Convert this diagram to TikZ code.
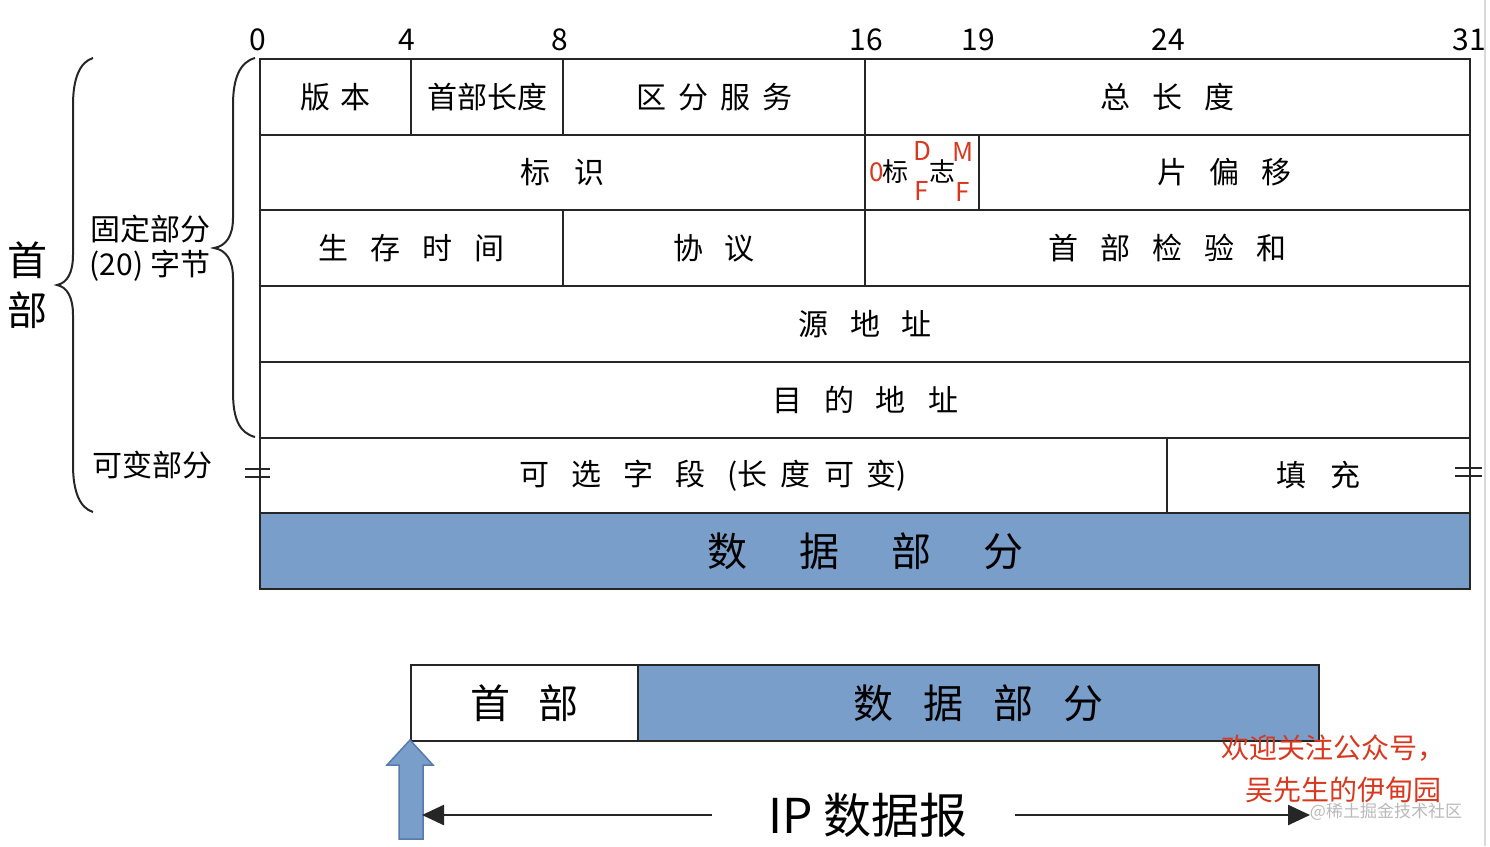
\documentclass[tikz,border=0pt]{standalone}
\usepackage{fontspec}
\setmainfont{Noto Sans CJK SC}
\usetikzlibrary{arrows.meta}
\definecolor{blu}{RGB}{122,158,202}
\definecolor{bluedge}{RGB}{88,122,172}
\definecolor{redt}{RGB}{217,56,30}
\newcommand\gapp[1]{\hspace{#1pt}}
\begin{document}
\begin{tikzpicture}[x=1pt,y=-1pt,
  cell/.style={draw=black!85, line width=2pt, minimum height=75.7pt, inner sep=0pt,
    anchor=north west, font=\fontsize{30}{30}\selectfont},
  datacell/.style={cell, fill=blu, font=\fontsize{40}{40}\selectfont},
  bitlbl/.style={font=\fontsize{30}{30}\selectfont, inner sep=0pt},
  sidelbl/.style={font=\fontsize{30}{30}\selectfont, inner sep=0pt},
  flagred/.style={text=redt, font=\fontsize{26}{26}\selectfont, inner sep=0pt},
  bracestyle/.style={draw=black!85, line width=2pt},
  eqmark/.style={draw=black!85, line width=2.5pt},
  lenarrow/.style={draw=black!85, line width=2.5pt, -{Triangle[length=22pt,width=20pt]}}
]
\useasboundingbox (0,0) rectangle (1490,846);
\draw[gray!30, line width=1.5pt] (1485,0) -- (1485,846);

% bit labels
\node[bitlbl] (b0) at (258,40) {0};
\node[bitlbl] (b4) at (407,40) {4};
\node[bitlbl] (b8) at (560,40) {8};
\node[bitlbl] (b16) at (866,40) {16};
\node[bitlbl] (b19) at (978,40) {19};
\node[bitlbl] (b24) at (1168,40) {24};
\node[bitlbl] (b31) at (1469,40) {31};

% row 1
\node[cell, minimum width=151pt] (ver) at (259,58) {版\gapp{10}本};
\node[cell, minimum width=152pt] (hlen) at (410,58) {首部长度};
\node[cell, minimum width=302pt] (tos) at (562,58) {区\gapp{12}分\gapp{12}服\gapp{12}务};
\node[cell, minimum width=605pt] (tlen) at (864,58) {总\gapp{22}长\gapp{22}度};
% row 2
\node[cell, minimum width=605pt] (ident) at (259,133.7) {标\gapp{24}识};
\node[cell, minimum width=114pt] (flags) at (864,133.7) {};
\node[cell, minimum width=491pt] (frag) at (978,133.7) {片\gapp{22}偏\gapp{22}移};
% row 3
\node[cell, minimum width=303pt] (ttl) at (259,209.4) {生\gapp{22}存\gapp{22}时\gapp{22}间};
\node[cell, minimum width=302pt] (proto) at (562,209.4) {协\gapp{22}议};
\node[cell, minimum width=605pt] (csum) at (864,209.4) {首\gapp{22}部\gapp{22}检\gapp{22}验\gapp{22}和};
% rows 4-5
\node[cell, minimum width=1210pt] (src) at (259,285.1) {源\gapp{22}地\gapp{22}址};
\node[cell, minimum width=1210pt] (dst) at (259,360.8) {目\gapp{22}的\gapp{22}地\gapp{22}址};
% row 6
\node[cell, minimum width=907pt] (opt) at (259,436.5) {可\gapp{22}选\gapp{22}字\gapp{22}段\gapp{22}(长\gapp{13}度\gapp{13}可\gapp{13}变)\gapp{20}};
\node[cell, minimum width=303pt] (pad) at (1166,436.5) {填\gapp{24}充};
% data row
\node[datacell, minimum width=1210pt] (data) at (259,512.2) {数\gapp{52}据\gapp{52}部\gapp{52}分};

% flags detail
\node[inner sep=0pt, font=\fontsize{26}{26}\selectfont] (flagtxt) at (919,172) {标\gapp{21}志};
\node[flagred] (f0) at (877,172) {0};
\node[flagred] (fD) at (922,151) {D};
\node[flagred] (fF1) at (922,191) {F};
\node[flagred] (fM) at (963,152) {M};
\node[flagred] (fF2) at (963,192) {F};

% equals marks
\draw[eqmark] (245,469) -- (270,469);
\draw[eqmark] (245,477) -- (270,477);
\draw[eqmark] (1455,468) -- (1482,468);
\draw[eqmark] (1455,476) -- (1482,476);

% braces
\draw[bracestyle] (93,58) .. controls (80,62) and (73,78) .. (73,105) -- (73,255)
  .. controls (73,273) and (67,283) .. (57,285)
  .. controls (67,287) and (73,297) .. (73,315) -- (73,465)
  .. controls (73,492) and (80,508) .. (93,512);
\draw[bracestyle] (255,58) .. controls (240,62) and (233,78) .. (233,105) -- (233,218)
  .. controls (233,236) and (226,246) .. (214,248)
  .. controls (226,250) and (233,260) .. (233,278) -- (233,392)
  .. controls (233,420) and (240,433) .. (255,437);

% side labels
\node[inner sep=0pt, font=\fontsize{40}{40}\selectfont] (shou) at (27,260) {首};
\node[inner sep=0pt, font=\fontsize{40}{40}\selectfont] (bu) at (27,310) {部};
\node[sidelbl] (fixed1) at (150,229) {固定部分};
\node[sidelbl] (fixed2) at (150,266) {(20) 字节};
\node[sidelbl] (var) at (152,465) {可变部分};

% bottom datagram
\node[cell, minimum width=227pt, font=\fontsize{40}{40}\selectfont] (hdr) at (410,664) {首\gapp{28}部};
\node[datacell, minimum width=681pt] (pl) at (637,664) {数\gapp{30}据\gapp{30}部\gapp{30}分};

% blue up arrow
\draw[fill=blu, draw=bluedge, line width=1.5pt] (410,740) -- (433,765) -- (423,765) -- (423,839)
  -- (399,839) -- (399,765) -- (387,765) -- cycle;

% IP datagram label and arrows
\node[inner sep=0pt, font=\fontsize{48}{48}\selectfont] (ip) at (868,815) {IP 数据报};
\coordinate (lstart) at (712,815);
\coordinate (lend) at (422,815);
\coordinate (rstart) at (1015,815);
\coordinate (rend) at (1310,815);
\draw[lenarrow] (lstart) -- (lend);
\draw[lenarrow] (rstart) -- (rend);

% red note and watermark
\node[inner sep=0pt, text=redt, font=\fontsize{28}{28}\selectfont] (note1) at (1333,748) {欢迎关注公众号，};
\node[inner sep=0pt, text=redt, font=\fontsize{28}{28}\selectfont] (note2) at (1343,790) {吴先生的伊甸园};
\node[inner sep=0pt, text=gray!55, font=\fontsize{17}{17}\selectfont] (wm) at (1386,812) {@稀土掘金技术社区};
\end{tikzpicture}
\end{document}
